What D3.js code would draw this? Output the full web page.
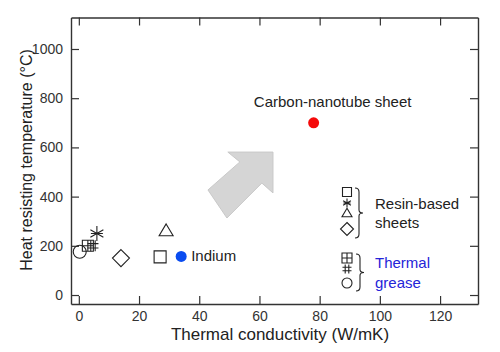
<!DOCTYPE html>
<html>
<head>
<meta charset="utf-8">
<script src="https://cdn.jsdelivr.net/npm/d3@7"></script>
<style>
body { margin: 0; background: #fff; }
text { font-family: Arial, "Liberation Sans", sans-serif; }
</style>
</head>
<body>
<div id="chart"></div>
<script>
// tick values
const xTicks = [0, 20, 40, 60, 80, 100, 120];
const yTicks = [0, 200, 400, 600, 800, 1000];

// resin-based sheets (open markers)
const resinSymbols = ["square", "asterisk", "triangle", "diamond"];
const resinX = [27, 6, 29, 14];
const resinY = [155, 250, 262, 150];

// thermal grease (open markers)
const greaseSymbols = ["squarePlus", "hash", "circle"];
const greaseX = [3, 4.7, 0.3];
const greaseY = [200, 200, 176];

// labelled filled points
const namedLabels = ["Indium", "Carbon-nanotube sheet"];
const namedX = [34, 78];
const namedY = [157, 700];
const namedColors = ["#0a4cf0", "#f50a0a"];

// big grey arrow outline, in data units
const arrowX = [49.5, 64.5, 64.5, 60.8, 49.2, 42.9, 53.5];
const arrowY = [581, 581, 415, 455, 313, 427, 541];

const W = 500, H = 352;
const margin = {left: 71, right: 22, top: 17.5, bottom: 48};

const svg = d3.select("#chart").append("svg")
    .attr("width", W)
    .attr("height", H);

const x = d3.scaleLinear().domain([-2.6, 132.6]).range([margin.left, W - margin.right]);
const y = d3.scaleLinear().domain([-36.5, 1128]).range([H - margin.bottom, margin.top]);

const axisColor = "#333";
const textColor = "#222";

//Axes with inward ticks on all four sides
function styleAxis(g) {
    g.selectAll("path.domain").attr("stroke", axisColor).attr("stroke-width", 1.4);
    g.selectAll(".tick line").attr("stroke", axisColor).attr("stroke-width", 1.2);
    g.selectAll(".tick text").attr("fill", "#333").style("font-size", "14px")
        .style("font-family", "Arial, 'Liberation Sans', sans-serif");
}

svg.append("g")
    .attr("transform", "translate(0," + (H - margin.bottom) + ")")
    .call(d3.axisBottom(x).tickValues(xTicks).tickFormat(d3.format("d"))
        .tickSizeInner(-8).tickSizeOuter(0).tickPadding(7))
    .call(styleAxis);

svg.append("g")
    .attr("transform", "translate(0," + margin.top + ")")
    .call(d3.axisTop(x).tickValues(xTicks).tickSizeInner(-8).tickSizeOuter(0).tickFormat(""))
    .call(styleAxis);

svg.append("g")
    .attr("transform", "translate(" + margin.left + ",0)")
    .call(d3.axisLeft(y).tickValues(yTicks).tickFormat(d3.format("d"))
        .tickSizeInner(-8).tickSizeOuter(0).tickPadding(8))
    .call(styleAxis);

svg.append("g")
    .attr("transform", "translate(" + (W - margin.right) + ",0)")
    .call(d3.axisRight(y).tickValues(yTicks).tickSizeInner(-8).tickSizeOuter(0).tickFormat(""))
    .call(styleAxis);

//Axis titles
svg.append("text")
    .attr("x", 280)
    .attr("y", 340)
    .attr("text-anchor", "middle")
    .attr("fill", textColor)
    .style("font-size", "17px")
    .text("Thermal conductivity (W/mK)");

svg.append("text")
    .attr("transform", "translate(32,160) rotate(-90)")
    .attr("text-anchor", "middle")
    .attr("fill", textColor)
    .style("font-size", "16px")
    .text("Heat resisting temperature (°C)");

//Grey arrow
svg.append("polygon")
    .attr("points", arrowX.map((d, i) => x(d) + "," + y(arrowY[i])).join(" "))
    .attr("fill", "#d5d5d5")
    .attr("stroke", "#c9c9c9")
    .attr("stroke-width", 1);

//Open marker shapes, s = overall size in px
function drawMarker(g, type, cx, cy, s) {
    const h = s / 2;
    const p = d3.path();
    if (type == "square") {
        p.rect(cx - h, cy - h, s, s);
    } else if (type == "squarePlus") {
        p.rect(cx - h, cy - h, s, s);
        p.moveTo(cx, cy - h); p.lineTo(cx, cy + h);
        p.moveTo(cx - h, cy); p.lineTo(cx + h, cy);
    } else if (type == "hash") {
        const a = s * 0.2;
        p.moveTo(cx - a, cy - h); p.lineTo(cx - a, cy + h);
        p.moveTo(cx + a, cy - h); p.lineTo(cx + a, cy + h);
        p.moveTo(cx - h, cy - a); p.lineTo(cx + h, cy - a);
        p.moveTo(cx - h, cy + a); p.lineTo(cx + h, cy + a);
    } else if (type == "triangle") {
        p.moveTo(cx, cy - h * 0.95);
        p.lineTo(cx + h, cy + h * 0.75);
        p.lineTo(cx - h, cy + h * 0.75);
        p.closePath();
    } else if (type == "diamond") {
        p.moveTo(cx, cy - h); p.lineTo(cx + h, cy);
        p.lineTo(cx, cy + h); p.lineTo(cx - h, cy);
        p.closePath();
    } else if (type == "asterisk") {
        [90, 30, 150, 0].forEach(a => {
            const r = a * Math.PI / 180;
            const k = a == 0 ? 0.8 : 1;
            p.moveTo(cx - h * k * Math.cos(r), cy - h * k * Math.sin(r));
            p.lineTo(cx + h * k * Math.cos(r), cy + h * k * Math.sin(r));
        });
    } else if (type == "circle") {
        p.moveTo(cx + h, cy);
        p.arc(cx, cy, h, 0, 2 * Math.PI);
    }
    g.append("path")
        .attr("d", p.toString())
        .attr("fill", "none")
        .attr("stroke", textColor)
        .attr("stroke-width", 1.1);
}

const markerSize = {square: 12, squarePlus: 11, hash: 11, triangle: 14, diamond: 17, asterisk: 15, circle: 13};

const pts = svg.append("g");
resinSymbols.forEach((t, i) => drawMarker(pts, t, x(resinX[i]), y(resinY[i]), markerSize[t]));
greaseSymbols.forEach((t, i) => drawMarker(pts, t, x(greaseX[i]), y(greaseY[i]), markerSize[t]));

//Filled labelled points
svg.selectAll("circle.named")
    .data(namedLabels)
    .join("circle")
    .attr("class", "named")
    .attr("cx", (d, i) => x(namedX[i]))
    .attr("cy", (d, i) => y(namedY[i]))
    .attr("r", 5.5)
    .attr("fill", (d, i) => namedColors[i]);

svg.append("text")
    .attr("x", x(namedX[0]) + 10)
    .attr("y", y(namedY[0]) + 5)
    .attr("fill", textColor)
    .style("font-size", "15px")
    .text(namedLabels[0]);

svg.append("text")
    .attr("x", x(namedX[1]) + 19)
    .attr("y", y(namedY[1]) - 16)
    .attr("text-anchor", "middle")
    .attr("fill", textColor)
    .style("font-size", "15px")
    .text(namedLabels[1]);

//Legend
const legendSize = {square: 9, asterisk: 9, triangle: 10, diamond: 13, squarePlus: 10, hash: 9, circle: 10};
const resinLegendY = [192, 203, 213, 229];
const greaseLegendY = [258, 269, 283];
const leg = svg.append("g");
resinSymbols.forEach((t, i) => drawMarker(leg, t, 347, resinLegendY[i], legendSize[t]));
greaseSymbols.forEach((t, i) => drawMarker(leg, t, 347, greaseLegendY[i], legendSize[t]));

function brace(x0, y0, y1) {
    const ym = (y0 + y1) / 2, xm = x0 + 4, xt = x0 + 8;
    return "M" + x0 + "," + y0 +
        " Q" + xm + "," + y0 + " " + xm + "," + (y0 + 4) +
        " L" + xm + "," + (ym - 3) +
        " Q" + xm + "," + ym + " " + xt + "," + ym +
        " Q" + xm + "," + ym + " " + xm + "," + (ym + 3) +
        " L" + xm + "," + (y1 - 4) +
        " Q" + xm + "," + y1 + " " + x0 + "," + y1;
}
leg.append("path").attr("d", brace(355, 188, 238))
    .attr("fill", "none").attr("stroke", textColor).attr("stroke-width", 1.1);
leg.append("path").attr("d", brace(356, 254, 291))
    .attr("fill", "none").attr("stroke", textColor).attr("stroke-width", 1.1);

leg.append("text").attr("x", 375).attr("y", 209).attr("fill", textColor)
    .style("font-size", "15px").text("Resin-based");
leg.append("text").attr("x", 375).attr("y", 228).attr("fill", textColor)
    .style("font-size", "15px").text("sheets");
leg.append("text").attr("x", 375).attr("y", 268).attr("fill", "#2424d8")
    .style("font-size", "15px").text("Thermal");
leg.append("text").attr("x", 375).attr("y", 288).attr("fill", "#2424d8")
    .style("font-size", "15px").text("grease");
</script>
</body>
</html>
